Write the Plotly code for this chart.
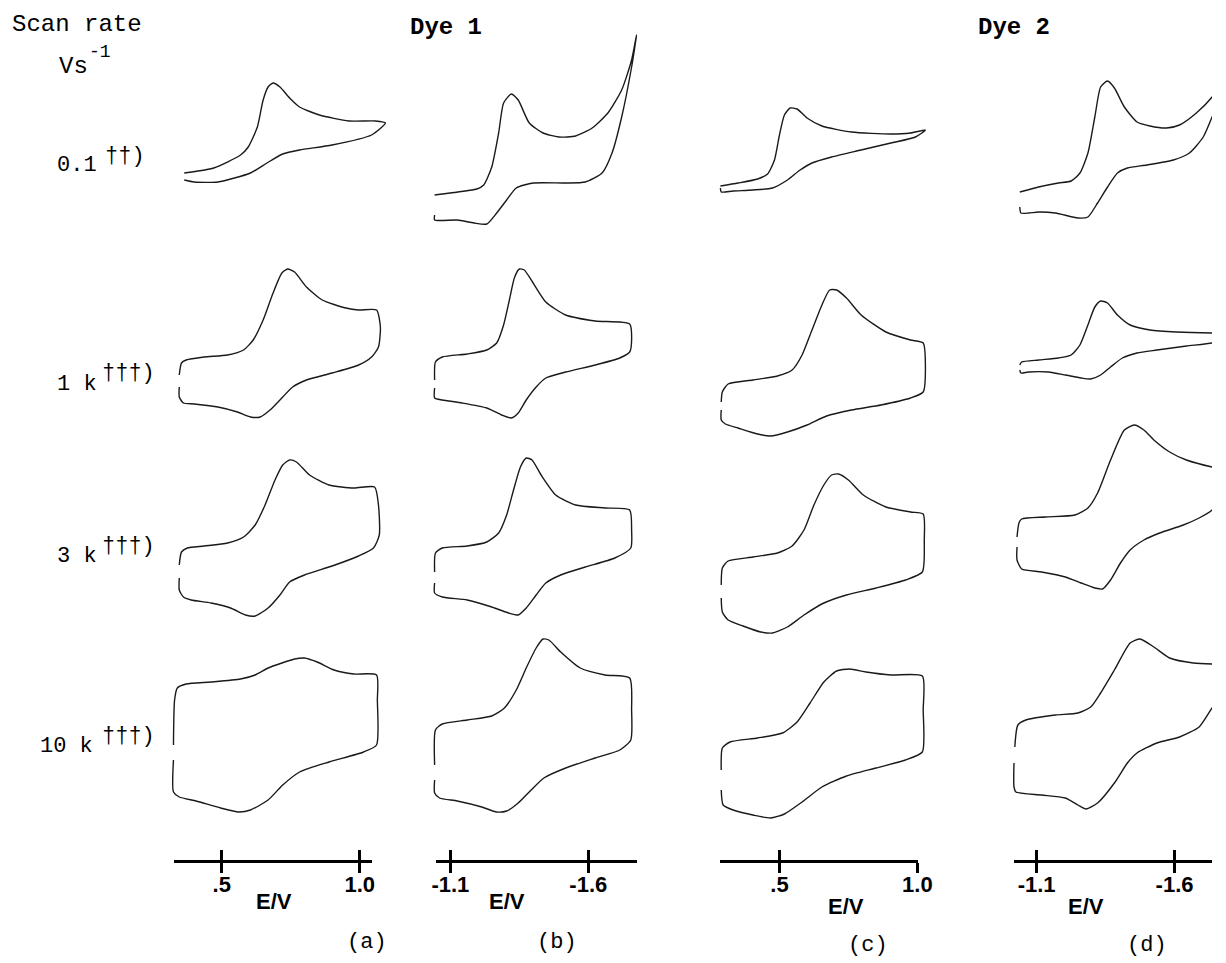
import plotly.graph_objects as go

# ---------------- data (E in V, current in arbitrary units) ----------------
SCAN_RATE_LABELS = ["0.1", "1 k", "3 k", "10 k"]
SCAN_RATE_MARKS = ["††)", "†††)", "†††)", "†††)"]
PANEL_LABELS = ["(a)", "(b)", "(c)", "(d)"]
DYE_LABELS = ["Dye 1", "Dye 2"]
TICK_VALS = [[0.5, 1.0], [-1.1, -1.6], [0.5, 1.0], [-1.1, -1.6]]
TICK_TEXT = [[".5", "1.0"], ["-1.1", "-1.6"], [".5", "1.0"], ["-1.1", "-1.6"]]
AXIS_TITLE = "E/V"

# Dye 1, oxidation (a)
A1_E = [.364, .471, .568, .596, .629, .650, .668, .686, .711, .746, .782, .854, .961, 1.057, 1.093,
        1.043, .900, .782, .721, .664, .604, .486, .400, .364]
A1_I = [6.7, 7.2, 8.5, 9.3, 11.3, 14.0, 15.3, 15.7, 15.3, 14.2, 13.3, 12.5, 11.9, 11.9, 11.7,
        10.5, 9.5, 9.0, 8.6, 7.7, 6.7, 5.8, 5.8, 6.0]
A2_E = [.346, .354, .371, .436, .521, .579, .614, .650, .686, .718, .739, .764, .807, .864, .950, .996, 1.061,
        1.075, 1.068, 1.043, .996, .900, .807, .757, .721, .675, .639, .604, .557, .486, .400, .361, .346, .346]
A2_I = [7.5, 8.7, 9.0, 9.3, 9.5, 10.0, 11.0, 13.0, 15.7, 17.7, 18.1, 17.8, 16.3, 15.0, 14.2, 14.0, 14.0,
        12.3, 10.3, 9.3, 8.5, 7.7, 7.0, 6.3, 5.3, 4.0, 3.3, 3.3, 3.8, 4.3, 4.6, 4.7, 5.3, 6.3]
A3_E = [.346, .354, .375, .436, .521, .579, .621, .657, .693, .721, .746, .771, .818, .889, .979, 1.054,
        1.068, 1.071, 1.05, .996, .900, .8, .746, .711, .668, .621, .586, .532, .461, .389, .361, .346, .346]
A3_I = [8.0, 9.3, 9.7, 9.9, 10.2, 10.8, 12.0, 14.0, 16.5, 18.0, 18.5, 18.3, 17.0, 16.0, 15.7, 15.8,
        14.0, 11.0, 9.7, 8.9, 7.9, 7.0, 6.3, 5.0, 3.7, 2.9, 3.0, 3.7, 4.2, 4.5, 4.8, 5.5, 6.7]
A4_E = [.325, .329, .339, .371, .461, .568, .621, .668, .718, .764, .8, .846, .907, .979, 1.061,
        1.064, 1.061, 1.014, .889, .782, .721, .668, .604, .561, .496, .407, .346, .325, .325]
A4_I = [8.5, 13.0, 14.2, 14.6, 14.8, 15.1, 15.5, 16.2, 16.7, 17.1, 17.2, 16.8, 16.0, 15.6, 15.5,
        13.0, 8.5, 7.8, 6.8, 5.8, 4.5, 3.0, 2.0, 1.8, 2.2, 2.9, 3.3, 3.8, 7.0]

# Dye 1, reduction (b)
B1_E = [-1.043, -1.100, -1.196, -1.221, -1.250, -1.275, -1.293, -1.321, -1.346, -1.386, -1.436, -1.493,
        -1.554, -1.614, -1.671, -1.721, -1.757, -1.775,
        -1.757, -1.721, -1.686, -1.650, -1.589, -1.518, -1.400, -1.339, -1.304, -1.268, -1.232, -1.186,
        -1.125, -1.043, -1.043]
B1_I = [4.5, 4.7, 5.1, 5.5, 7.3, 10.7, 13.7, 14.6, 14.0, 11.7, 10.7, 10.3, 10.4, 11.2, 12.7, 15.0, 18.0, 20.5,
        17.3, 12.3, 8.7, 6.7, 5.8, 5.7, 5.7, 5.2, 4.0, 2.7, 1.6, 1.7, 2.0, 2.0, 2.5]
B2_E = [-1.043, -1.046, -1.071, -1.161, -1.232, -1.268, -1.293, -1.314, -1.332, -1.350, -1.368, -1.400,
        -1.446, -1.518, -1.625, -1.75,
        -1.757, -1.75, -1.714, -1.625, -1.518, -1.446, -1.411, -1.375, -1.346, -1.321, -1.286, -1.232,
        -1.143, -1.071, -1.043, -1.043]
B2_I = [7.0, 8.8, 9.3, 9.6, 10.0, 10.7, 12.5, 15.0, 17.2, 18.1, 18.0, 16.7, 14.8, 13.5, 12.9, 12.6,
        11.0, 9.8, 9.2, 8.5, 7.8, 7.2, 6.3, 5.0, 3.7, 3.2, 3.5, 4.2, 4.7, 5.0, 5.2, 6.2]
B3_E = [-1.043, -1.046, -1.071, -1.161, -1.232, -1.275, -1.304, -1.329, -1.354, -1.375, -1.396, -1.429,
        -1.482, -1.554, -1.661, -1.75,
        -1.757, -1.754, -1.696, -1.589, -1.5, -1.446, -1.411, -1.375, -1.346, -1.311, -1.250, -1.161,
        -1.071, -1.043, -1.043]
B3_I = [7.3, 9.2, 9.7, 9.9, 10.3, 11.2, 13.0, 15.5, 17.8, 18.7, 18.5, 17.0, 15.0, 14.0, 13.7, 13.5,
        11.5, 9.7, 8.7, 7.8, 7.0, 6.2, 5.0, 3.7, 3.0, 3.2, 3.8, 4.5, 4.8, 5.2, 6.2]
B4_E = [-1.043, -1.046, -1.071, -1.161, -1.250, -1.296, -1.339, -1.375, -1.411, -1.436, -1.457, -1.5,
        -1.571, -1.661, -1.75,
        -1.757, -1.754, -1.714, -1.625, -1.518, -1.439, -1.393, -1.346, -1.304, -1.268, -1.214, -1.125,
        -1.061, -1.043, -1.043]
B4_I = [6.5, 10.0, 10.6, 11.0, 11.4, 12.2, 14.0, 16.2, 18.2, 19.1, 19.0, 17.8, 16.2, 15.5, 15.2,
        12.0, 9.0, 8.0, 7.2, 6.2, 5.2, 4.0, 2.7, 1.9, 1.8, 2.3, 2.9, 3.2, 3.7, 5.0]

# Dye 2, oxidation (c)
C1_E = [.286, .35, .421, .457, .482, .5, .518, .539, .564, .6, .654, .761, .904, .975, 1.029,
        .993, .904, .796, .689, .618, .575, .529, .475, .404, .332, .289, .286]
C1_I = [5.4, 5.7, 6.1, 6.6, 8.0, 10.5, 12.5, 13.2, 13.1, 12.2, 11.4, 10.8, 10.6, 10.7, 11.0,
        10.3, 9.7, 9.0, 8.3, 7.7, 7.0, 6.0, 5.2, 5.0, 4.9, 4.8, 5.2]
C2_E = [.289, .293, .314, .404, .493, .546, .582, .618, .654, .682, .707, .743, .796, .886, .975, 1.021,
        1.029, 1.021, .975, .868, .761, .671, .6, .529, .468, .421, .35, .304, .289, .289]
C2_I = [4.8, 5.8, 6.6, 7.0, 7.4, 8.0, 9.5, 12.0, 14.5, 16.0, 16.0, 15.2, 13.5, 11.8, 11.0, 10.7,
        8.5, 5.8, 5.2, 4.5, 4.0, 3.4, 2.5, 1.8, 1.4, 1.6, 2.2, 2.6, 3.0, 4.0]
C3_E = [.289, .293, .314, .404, .493, .546, .589, .625, .661, .689, .714, .75, .804, .886, .975, 1.021,
        1.025, 1.018, .957, .85, .743, .661, .589, .529, .475, .432, .368, .314, .293, .289]
C3_I = [6.0, 7.7, 8.4, 8.8, 9.2, 9.9, 11.5, 14.0, 16.0, 17.0, 17.1, 16.5, 15.0, 13.8, 13.3, 13.1,
        10.5, 7.3, 6.5, 5.7, 5.0, 4.2, 3.0, 1.8, 1.2, 1.3, 1.9, 2.5, 3.3, 4.7]
C4_E = [.289, .293, .321, .421, .511, .564, .611, .661, .707, .754, .814, .904, 1.018,
        1.021, 1.018, .957, .85, .743, .654, .582, .518, .468, .404, .332, .296, .289]
C4_I = [6.0, 8.2, 8.8, 9.2, 9.7, 10.8, 12.7, 14.8, 15.9, 16.1, 15.8, 15.5, 15.4,
        12.0, 7.8, 7.0, 6.2, 5.4, 4.3, 2.8, 1.6, 1.2, 1.5, 2.0, 2.5, 4.0]

# Dye 2, reduction (d)
D1_E = [-1.039, -1.107, -1.179, -1.225, -1.257, -1.286, -1.311, -1.332, -1.357, -1.382, -1.418, -1.464,
        -1.511, -1.571, -1.618, -1.679, -1.736, -1.793,
        -1.768, -1.736, -1.704, -1.654, -1.596, -1.5, -1.429, -1.393, -1.357, -1.321, -1.286, -1.25,
        -1.168, -1.107, -1.071, -1.043, -1.039]
D1_I = [4.8, 5.3, 5.7, 5.9, 6.7, 8.7, 12.3, 15.3, 15.9, 15.2, 13.3, 11.8, 11.4, 11.2, 11.5, 12.7, 14.3, 16.8,
        14.5, 12.3, 10.3, 8.7, 8.0, 7.5, 7.2, 6.7, 5.3, 3.7, 2.3, 2.2, 2.7, 2.8, 2.7, 2.7, 3.3]
D2_E = [-1.039, -1.046, -1.107, -1.179, -1.225, -1.257, -1.286, -1.311, -1.332, -1.357, -1.393, -1.439,
        -1.511, -1.607, -1.736, -1.757,
        -1.761, -1.736, -1.643, -1.536, -1.464, -1.411, -1.368, -1.332, -1.296, -1.261, -1.204, -1.143,
        -1.071, -1.043, -1.039]
D2_I = [8.5, 8.8, 9.0, 9.2, 9.5, 10.5, 12.5, 14.3, 14.9, 14.7, 13.5, 12.5, 12.0, 11.8, 11.7, 11.7,
        11.0, 10.7, 10.4, 10.0, 9.7, 9.2, 8.3, 7.5, 7.1, 7.2, 7.5, 7.8, 7.8, 7.7, 8.0]
D3_E = [-1.029, -1.036, -1.046, -1.132, -1.239, -1.286, -1.321, -1.368, -1.418, -1.454, -1.489, -1.525,
        -1.582, -1.643, -1.736, -1.757,
        -1.761, -1.736, -1.689, -1.632, -1.546, -1.489, -1.439, -1.404, -1.368, -1.339, -1.311, -1.261,
        -1.204, -1.118, -1.046, -1.029, -1.029]
D3_I = [10.8, 12.2, 12.6, 12.8, 13.0, 13.7, 15.2, 18.5, 21.5, 22.0, 21.5, 20.5, 19.3, 18.5, 17.8, 17.7,
        14.5, 13.5, 12.7, 12.0, 11.2, 10.5, 9.5, 8.2, 6.5, 5.6, 5.7, 6.2, 6.8, 7.3, 7.6, 8.5, 9.8]
D4_E = [-1.021, -1.032, -1.061, -1.168, -1.25, -1.296, -1.332, -1.382, -1.439, -1.475, -1.525, -1.582,
        -1.668, -1.736, -1.757,
        -1.761, -1.736, -1.689, -1.618, -1.536, -1.464, -1.429, -1.382, -1.321, -1.279, -1.25, -1.204,
        -1.118, -1.025, -1.018, -1.018]
D4_I = [8.3, 10.5, 11.0, 11.5, 11.7, 12.3, 13.7, 16.0, 18.7, 19.1, 18.3, 17.2, 16.7, 16.6, 16.6,
        13.0, 12.2, 10.3, 9.3, 8.7, 7.7, 6.7, 4.7, 2.7, 2.1, 2.5, 3.2, 3.5, 3.8, 4.3, 6.7]

CURVES = [
    [(A1_E, A1_I), (B1_E, B1_I), (C1_E, C1_I), (D1_E, D1_I)],
    [(A2_E, A2_I), (B2_E, B2_I), (C2_E, C2_I), (D2_E, D2_I)],
    [(A3_E, A3_I), (B3_E, B3_I), (C3_E, C3_I), (D3_E, D3_I)],
    [(A4_E, A4_I), (B4_E, B4_I), (C4_E, C4_I), (D4_E, D4_I)],
]

# ---------------- layout geometry (pixels) ----------------
W, H = 1226, 963
S = 280.0          # pixels per volt
I_PX = 10.0        # pixels per current unit
COLS = [
    dict(ref_e=0.5, ref_px=221, sgn=1, curve=(160, 415), axis=(173, 373)),
    dict(ref_e=-1.1, ref_px=453, sgn=-1, curve=(420, 690), axis=(438, 642)),
    dict(ref_e=0.5, ref_px=787, sgn=1, curve=(700, 990), axis=(727, 928)),
    dict(ref_e=-1.1, ref_px=1048, sgn=-1, curve=(995, 1226), axis=(1025, 1226)),
]
ROWS = [(20, 240), (250, 450), (415, 645), (625, 830)]
AXIS_Y = 860


def e_at(col, px):
    return col["ref_e"] + col["sgn"] * (px - col["ref_px"]) / S


def xp(px):
    return px / W


def yp(py):
    return 1 - py / H


def names(k):
    return ("x" if k == 1 else f"x{k}"), ("y" if k == 1 else f"y{k}")


fig = go.Figure()
layout = {}
LINE = dict(color="#1a1a1a", width=1.4, shape="spline", smoothing=0.6)

k = 0
for r, (top, bot) in enumerate(ROWS):
    for c, col in enumerate(COLS):
        k += 1
        xn, yn = names(k)
        E, I = CURVES[r][c]
        fig.add_trace(go.Scatter(x=E, y=I, mode="lines", line=LINE, xaxis=xn, yaxis=yn,
                                 hoverinfo="skip", showlegend=False))
        px0, px1 = col["curve"]
        layout[f"xaxis{'' if k == 1 else k}"] = dict(
            domain=[xp(px0), xp(px1)], range=[e_at(col, px0), e_at(col, px1)],
            visible=False, anchor=yn, fixedrange=True)
        layout[f"yaxis{'' if k == 1 else k}"] = dict(
            domain=[yp(bot), yp(top)], range=[0, (bot - top) / I_PX],
            visible=False, anchor=xn, fixedrange=True)

# bottom potential axes: labelled axis with outward ticks + overlay axis with inward ticks
TICKFONT = dict(family="Liberation Sans", size=22, color="black", weight="bold")
for c, col in enumerate(COLS):
    km = 17 + c
    ko = 21 + c
    px0, px1 = col["axis"]
    dom = [xp(px0), min(1.0, xp(px1))]
    rng = [e_at(col, px0), e_at(col, px1)]
    fig.add_trace(go.Scatter(x=TICK_VALS[c], y=[0.5, 0.5], mode="none", xaxis=f"x{km}", yaxis=f"y{km}",
                             hoverinfo="skip", showlegend=False))
    fig.add_trace(go.Scatter(x=TICK_VALS[c], y=[0.5, 0.5], mode="none", xaxis=f"x{ko}", yaxis=f"y{km}",
                             hoverinfo="skip", showlegend=False))
    layout[f"xaxis{km}"] = dict(
        domain=dom, range=rng,
        showline=True, linecolor="black", linewidth=2.6,
        ticks="outside", ticklen=10, tickwidth=3, tickcolor="black",
        tickmode="array", tickvals=TICK_VALS[c], ticktext=TICK_TEXT[c],
        tickfont=TICKFONT, ticklabelstandoff=-7,
        showgrid=False, zeroline=False, anchor=f"y{km}", fixedrange=True)
    layout[f"xaxis{ko}"] = dict(
        domain=dom, range=rng, overlaying=f"x{km}", side="bottom", anchor=f"y{km}",
        showline=False, ticks="inside", ticklen=10, tickwidth=3, tickcolor="black",
        tickmode="array", tickvals=TICK_VALS[c], showticklabels=False,
        showgrid=False, zeroline=False, fixedrange=True)
    layout[f"yaxis{km}"] = dict(domain=[yp(AXIS_Y), yp(AXIS_Y - 20)], range=[0, 1],
                                visible=False, anchor=f"x{km}", fixedrange=True)

MONO = "Liberation Mono"
ann = []


def add_text(text, x, y, size, family=MONO, bold=False, xanchor="left"):
    ann.append(dict(text=text, x=xp(x), y=yp(y), xref="paper", yref="paper",
                    xanchor=xanchor, yanchor="middle", showarrow=False,
                    font=dict(family=family, size=size, color="black",
                              weight="bold" if bold else "normal")))


add_text("Scan rate", 6, 25, 24)
add_text("Vs", 54, 67, 24)
add_text("-1", 84, 52, 18)
ROW_LABEL_POS = [(52, 166), (52, 384), (52, 556), (35, 746)]
MARK_X = [100, 97, 97, 97]
for i, (lab, mark) in enumerate(zip(SCAN_RATE_LABELS, SCAN_RATE_MARKS)):
    x, y = ROW_LABEL_POS[i]
    add_text(lab, x, y, 22)
    add_text(mark, MARK_X[i], y - 10, 22)

add_text(DYE_LABELS[0], 410, 28, 24, bold=True)
add_text(DYE_LABELS[1], 986, 28, 24, bold=True)

EV_POS = [(274, 901), (511, 901), (855, 906), (1098, 906)]
PANEL_POS = [(368, 942), (561, 942), (877, 945), (1160, 945)]
for c in range(4):
    add_text(AXIS_TITLE, EV_POS[c][0], EV_POS[c][1], 22, family="Liberation Sans", bold=True,
             xanchor="center")
    add_text(PANEL_LABELS[c], PANEL_POS[c][0], PANEL_POS[c][1], 22, xanchor="center")

fig.update_layout(**layout)
fig.update_layout(width=W, height=H, margin=dict(l=0, r=0, t=0, b=0),
                  paper_bgcolor="white", plot_bgcolor="rgba(0,0,0,0)",
                  showlegend=False, annotations=ann)

fig.write_html("out.html", config={"displayModeBar": False},
               post_script="document.body.style.margin='0';")
